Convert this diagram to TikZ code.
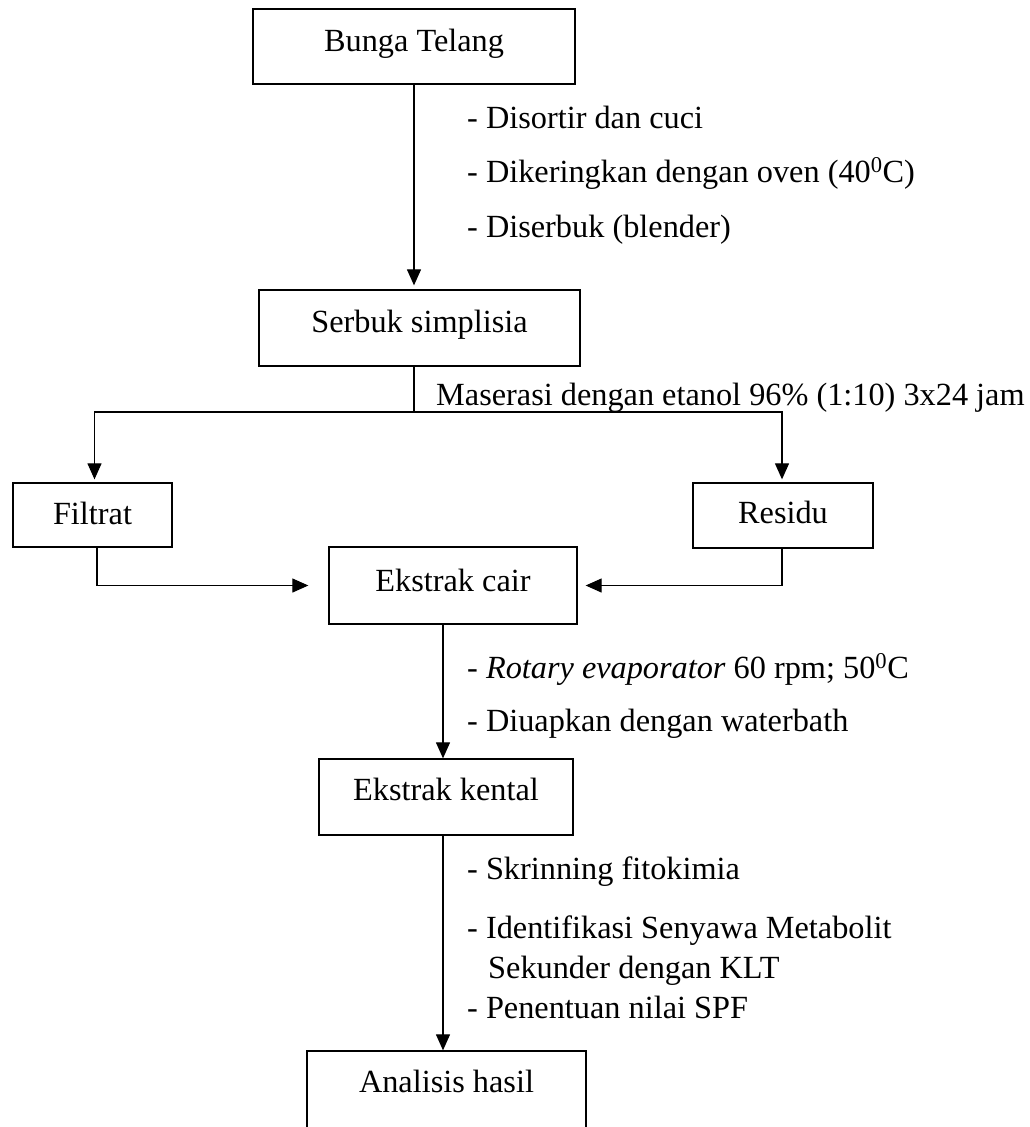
\documentclass[tikz,border=0pt]{standalone}
\usepackage{fontspec}
\setmainfont{Liberation Serif}
\usetikzlibrary{arrows.meta}
\begin{document}
\begin{tikzpicture}[x=1pt,y=-1pt,
  font=\fontsize{32.3pt}{38pt}\selectfont,
  box/.style={draw=black,line width=1.3pt,inner sep=0pt,text height=21.2pt,text depth=#1},
  box/.default=10pt,
  arr/.style={line width=1.2pt,-{Triangle[length=16pt,width=14pt]}},
  ln/.style={line width=1.2pt},
  lbl/.style={anchor=base west,inner sep=0pt}]
\useasboundingbox (0,0) rectangle (1030,1127);
% boxes
\node[box=11pt,minimum width=322pt,minimum height=75pt] (bunga) at (414,46.5) {Bunga Telang};
\node[box=12pt,minimum width=321pt,minimum height=76pt] (serbuk) at (419.5,328) {Serbuk simplisia};
\node[box=3pt,minimum width=159pt,minimum height=64pt] (filtrat) at (92.5,515) {Filtrat};
\node[box=5pt,minimum width=180pt,minimum height=65pt] (residu) at (783,515.5) {Residu};
\node[box=10pt,minimum width=248pt,minimum height=77pt] (ekcair) at (453,585.5) {Ekstrak cair};
\node[box=14pt,minimum width=254pt,minimum height=76pt] (kental) at (446,797) {Ekstrak kental};
\node[box=27pt,minimum width=279pt,minimum height=89pt] (analisis) at (446.5,1095.5) {Analisis hasil};
% labels
\node[lbl] (l1) at (467,128) {- Disortir dan cuci};
\node[lbl] (l2) at (467,182) {- Dikeringkan dengan oven (40\textsuperscript{0}C)};
\node[lbl] (l3) at (467,237) {- Diserbuk (blender)};
\node[lbl] (mas) at (436,405) {Maserasi dengan etanol 96\% (1:10) 3x24 jam};
\node[lbl] (l4) at (467,678) {- \textit{Rotary evaporator} 60 rpm; 50\textsuperscript{0}C};
\node[lbl] (l5) at (467,731) {- Diuapkan dengan waterbath};
\node[lbl] (l6) at (467,879) {- Skrinning fitokimia};
\node[lbl] (l7) at (467,938) {- Identifikasi Senyawa Metabolit};
\node[lbl] (l7b) at (488,978) {Sekunder dengan KLT};
\node[lbl] (l8) at (467,1018) {- Penentuan nilai SPF};
% connectors
\coordinate (split) at (414,412);
\draw[arr,shorten >=4pt] (bunga.south) -- (bunga.south |- serbuk.north);
\draw[ln] (serbuk.south -| split) -- (split);
\draw[arr,shorten >=3pt] (split) -| ([xshift=2pt]filtrat.north);
\draw[arr,shorten >=3pt] (split) -| ([xshift=-1pt]residu.north);
\draw[arr,shorten >=20pt] ([xshift=4.5pt]filtrat.south) |- (ekcair.west);
\draw[arr,shorten >=8pt] ([xshift=-1pt]residu.south) |- (ekcair.east);
\draw[arr] ([xshift=-3pt]kental.north |- ekcair.south) -- ([xshift=-3pt]kental.north);
\draw[arr] ([xshift=-3pt]kental.south) -- ([xshift=-3pt]kental.south |- analisis.north);
\end{tikzpicture}
\end{document}
